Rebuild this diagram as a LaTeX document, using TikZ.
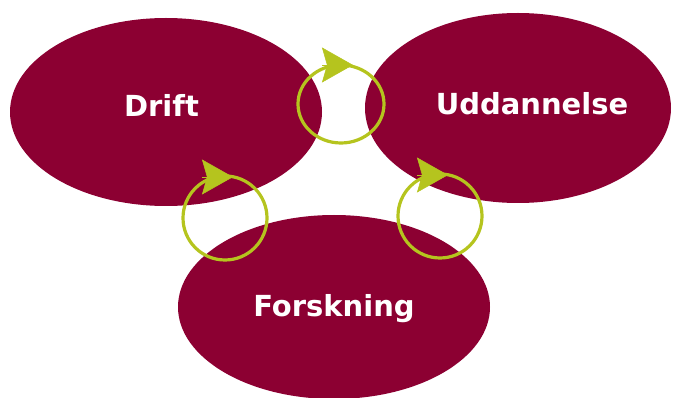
\documentclass[tikz,border=0pt]{standalone}
\usepackage{fontspec}
\setmainfont{DejaVu Sans}
\usetikzlibrary{shapes.geometric,arrows.meta}
\definecolor{wine}{RGB}{140,0,50}
\definecolor{lime}{RGB}{181,196,30}
\begin{document}
\begin{tikzpicture}[x=1pt,y=1pt,
  blob/.style={ellipse, fill=wine, draw=none, inner sep=0pt},
  lbl/.style={anchor=base, text=white, inner sep=0pt, font=\bfseries\fontsize{29}{34}\selectfont},
  ring/.style={draw=lime, line width=3.2pt},
  tip/.style={draw=lime, line width=0.5pt, -{Stealth[length=31pt,width=35pt,inset=5pt]}}]
\useasboundingbox (0,0) rectangle (673,-398);
\node[blob, minimum width=312pt, minimum height=188pt] (drift) at (166,-112) {};
\node[blob, minimum width=306pt, minimum height=190pt] (udd) at (518,-108) {};
\node[blob, minimum width=312pt, minimum height=184pt] (forsk) at (334,-307) {};
\node[lbl] (tdrift) at (161.5,-117) {Drift};
\node[lbl] (tudd) at (532,-115) {Uddannelse};
\node[lbl] (tforsk) at (334,-317) {Forskning};
\coordinate (c1) at (341,-104);
\coordinate (c2) at (225,-218);
\coordinate (c3) at (440,-216);
\coordinate (t1) at (353,-65);
\coordinate (t2) at (233,-177);
\coordinate (t3) at (448,-175);
\draw[ring] (c1) ellipse[x radius=43, y radius=39];
\draw[ring] (c2) circle[radius=42];
\draw[ring] (c3) circle[radius=42];
\draw[tip] ([shift={(-31,0)}]t1) -- (t1);
\draw[tip] ([shift={(-31,0)}]t2) -- (t2);
\draw[tip] ([shift={(-31,0)}]t3) -- (t3);
\end{tikzpicture}
\end{document}
